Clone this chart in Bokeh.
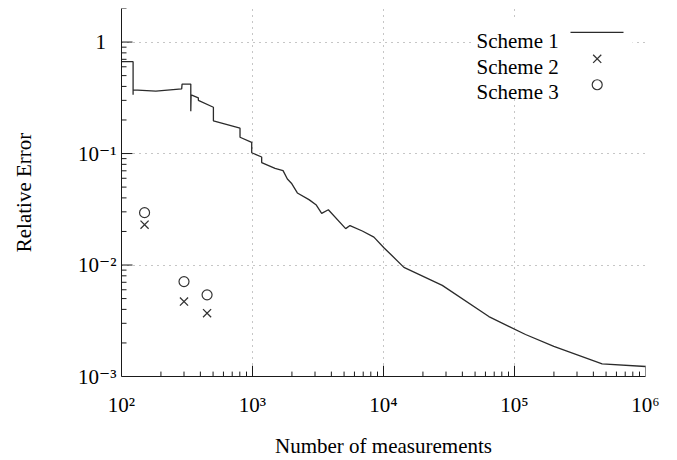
from bokeh.plotting import figure
from bokeh.models import FixedTicker, CustomJSTickFormatter, Label, BoxAnnotation
from bokeh.embed import file_html
from bokeh.resources import INLINE
import math

# ---------------- data ----------------
scheme1_n = [100, 122.6, 122.6, 122.6, 183, 288, 290, 338, 338, 340, 386, 386, 503, 503,
             803, 803, 986, 986, 1175, 1175, 1486, 1711, 1846, 1982, 2200, 2698, 3070,
             3373, 3793, 5143, 5550, 6890, 8450, 10070, 11330, 14320, 28100, 63700,
             121400, 199600, 466600, 1000000]
scheme1_err = [0.667, 0.667, 0.336, 0.372, 0.3625, 0.380, 0.420, 0.420, 0.240, 0.336,
               0.316, 0.300, 0.260, 0.196, 0.169, 0.140, 0.126, 0.1016, 0.0931, 0.083,
               0.0735, 0.0702, 0.0591, 0.0542, 0.0443, 0.0386, 0.0345, 0.0291, 0.0313,
               0.0212, 0.0226, 0.0202, 0.0178, 0.0143, 0.0125, 0.00952, 0.00657, 0.00345,
               0.00238, 0.00186, 0.0013, 0.00123]

scheme23_n = [150, 300, 450]
scheme2_err = [0.023, 0.0047, 0.0037]
scheme3_err = [0.0295, 0.0071, 0.0054]

x_major = [1e2, 1e3, 1e4, 1e5, 1e6]
y_major = [1e-3, 1e-2, 1e-1, 1.0]
legend_labels = ["Scheme 1", "Scheme 2", "Scheme 3"]

# ---------------- layout constants ----------------
X_MIN, X_MAX = 1e2, 1e6
Y_MIN, Y_MAX = 1e-3, 2.0
W, H = 677, 460
B_LEFT, B_RIGHT, B_TOP, B_BOTTOM = 121, 32, 8, 77
FW, FH = W - B_LEFT - B_RIGHT, H - B_TOP - B_BOTTOM
SERIF = "Liberation Serif"
TICK_FONT = "Liberation Serif, DejaVu Serif"
INK = "#1a1a1a"
MARK = "#333333"

x_minor = [m * 10.0 ** e for e in range(2, 6) for m in range(2, 10)]
y_minor = [m * 10.0 ** e for e in range(-3, 1) for m in range(2, 10)]


def px_x(px):
    f = (px - B_LEFT) / FW
    return 10 ** (math.log10(X_MIN) + f * (math.log10(X_MAX) - math.log10(X_MIN)))


def px_y(py):
    f = (B_TOP + FH - py) / FH
    return 10 ** (math.log10(Y_MIN) + f * (math.log10(Y_MAX) - math.log10(Y_MIN)))


p = figure(width=W, height=H, x_axis_type="log", y_axis_type="log",
           x_range=(X_MIN, X_MAX), y_range=(Y_MIN, Y_MAX),
           output_backend="svg", toolbar_location=None,
           min_border_left=B_LEFT, min_border_right=B_RIGHT,
           min_border_top=B_TOP, min_border_bottom=B_BOTTOM)
p.outline_line_color = None
p.background_fill_color = "white"
p.border_fill_color = "white"

xt = FixedTicker(ticks=x_major, minor_ticks=x_minor)
yt = FixedTicker(ticks=y_major, minor_ticks=y_minor)
p.xaxis.ticker = xt
p.yaxis.ticker = yt
p.xgrid.ticker = xt
p.ygrid.ticker = yt

SUP_JS = """
const sup = {"-": "\u207b", "0": "\u2070", "1": "\u00b9", "2": "\u00b2", "3": "\u00b3",
             "4": "\u2074", "5": "\u2075", "6": "\u2076", "7": "\u2077", "8": "\u2078", "9": "\u2079"};
const e = Math.round(Math.log10(tick));
const s = "10" + String(e).split("").map(c => sup[c]).join("");
"""
p.xaxis.formatter = CustomJSTickFormatter(code=SUP_JS + "return s;")
p.yaxis.formatter = CustomJSTickFormatter(code=SUP_JS + 'return e === 0 ? "1\u2002" : s;')

for ax in (p.xaxis, p.yaxis):
    ax.axis_line_color = INK
    ax.axis_line_width = 1
    ax.major_tick_line_color = None
    ax.minor_tick_line_color = None
    ax.major_tick_in = 0
    ax.major_tick_out = 0
    ax.minor_tick_in = 0
    ax.minor_tick_out = 0
    ax.major_label_text_font = TICK_FONT
    ax.major_label_text_font_size = "21px"
    ax.major_label_text_color = "#000000"
    ax.axis_label_text_font = SERIF
    ax.axis_label_text_font_size = "21px"
    ax.axis_label_text_font_style = "normal"
    ax.axis_label_text_color = "#000000"

p.xaxis.axis_label = "Number of measurements"
p.yaxis.axis_label = "Relative Error"
p.xaxis.major_label_standoff = 16
p.xaxis.axis_label_standoff = 14
p.yaxis.major_label_standoff = 5
p.yaxis.axis_label_standoff = 39

for g in (p.xgrid, p.ygrid):
    g.grid_line_color = "#8c8c8c"
    g.grid_line_dash = "1 5"
    g.grid_line_width = 1

# inward tick marks drawn from the axes into the frame
x_major_len, x_minor_len = px_y(B_TOP + FH - 11), px_y(B_TOP + FH - 5)
y_major_len, y_minor_len = px_x(B_LEFT + 11), px_x(B_LEFT + 5)
p.segment(x0=x_major, y0=[Y_MIN] * len(x_major), x1=x_major, y1=[x_major_len] * len(x_major),
          line_color=INK, line_width=1)
p.segment(x0=x_minor, y0=[Y_MIN] * len(x_minor), x1=x_minor, y1=[x_minor_len] * len(x_minor),
          line_color=INK, line_width=1)
p.segment(x0=[X_MIN] * len(y_major), y0=y_major, x1=[y_major_len] * len(y_major), y1=y_major,
          line_color=INK, line_width=1)
p.segment(x0=[X_MIN] * len(y_minor), y0=y_minor, x1=[y_minor_len] * len(y_minor), y1=y_minor,
          line_color=INK, line_width=1)

# data marks
p.line(scheme1_n, scheme1_err, line_color="#2b2b2b", line_width=1.3)
p.scatter(scheme23_n, scheme2_err, marker="x", size=11.5, line_color=MARK, line_width=1.3)
p.scatter(scheme23_n, scheme3_err, marker="circle", size=10, fill_color=None,
          line_color=MARK, line_width=1.2)

# legend (text on the left, sample on the right)
p.add_layout(BoxAnnotation(left=px_x(473), right=px_x(632), top=px_y(18), bottom=px_y(97),
                           fill_color="white", fill_alpha=1.0, line_color=None,
                           level="underlay"))
leg_text_x = px_x(476)
leg_baselines = [40.7, 67.3, 93.3]
for lab, by in zip(legend_labels, leg_baselines):
    p.add_layout(Label(x=leg_text_x, y=px_y(by), text=lab, text_font=SERIF,
                       text_font_size="21px", text_color="#000000",
                       text_align="left", text_baseline="alphabetic"))
sample_cx = 596.7
p.line([px_x(570), px_x(623)], [px_y(32.3), px_y(32.3)], line_color="#2b2b2b", line_width=1.3)
p.scatter([px_x(sample_cx)], [px_y(59.3)], marker="x", size=11.5, line_color=MARK, line_width=1.3)
p.scatter([px_x(sample_cx)], [px_y(85.7)], marker="circle", size=10, fill_color=None,
          line_color=MARK, line_width=1.2)

open("out.html", "w").write(file_html(p, INLINE))
